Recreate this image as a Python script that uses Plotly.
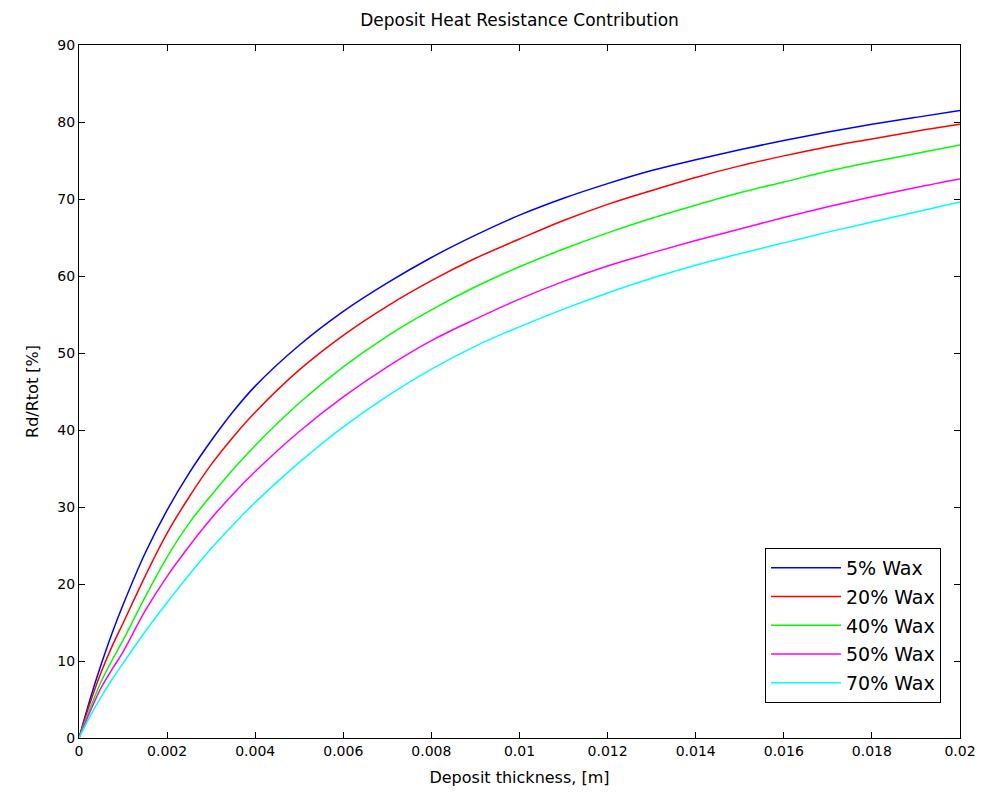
import plotly.graph_objects as go

thickness = [0, 0.00025, 0.0005, 0.00075, 0.001, 0.0015, 0.002, 0.0025, 0.003, 0.0035,
             0.004, 0.005, 0.006, 0.007, 0.008, 0.009, 0.01, 0.011, 0.012, 0.013,
             0.014, 0.015, 0.016, 0.017, 0.018, 0.019, 0.02]

wax5 = [0, 5.0, 9.5, 13.6, 17.3, 24.0, 29.6, 34.4, 38.6, 42.4, 45.7, 51.0, 55.4, 59.1,
        62.4, 65.3, 67.9, 70.1, 72.0, 73.7, 75.1, 76.4, 77.6, 78.7, 79.7, 80.6, 81.5]
wax20 = [0, 4.5, 8.5, 11.9, 14.9, 21.0, 26.6, 31.3, 35.5, 39.1, 42.3, 47.8, 52.3, 56.1,
         59.4, 62.3, 64.8, 67.2, 69.3, 71.1, 72.8, 74.3, 75.6, 76.8, 77.8, 78.8, 79.7]
wax40 = [0, 3.8, 7.3, 10.1, 12.7, 18.3, 23.5, 27.9, 31.5, 34.9, 38.0, 43.5, 48.2, 52.2,
         55.6, 58.6, 61.2, 63.5, 65.6, 67.5, 69.2, 70.8, 72.2, 73.6, 74.8, 75.9, 77.0]
wax50 = [0, 3.4, 6.5, 8.9, 11.2, 16.5, 21.0, 24.9, 28.5, 31.7, 34.6, 39.8, 44.3, 48.2,
         51.6, 54.4, 57.0, 59.3, 61.3, 63.0, 64.6, 66.1, 67.6, 69.0, 70.3, 71.5, 72.6]
wax70 = [0, 2.8, 5.3, 7.6, 9.7, 13.8, 17.6, 21.2, 24.6, 27.7, 30.6, 35.8, 40.4, 44.4,
         47.9, 50.9, 53.4, 55.7, 57.8, 59.7, 61.4, 62.9, 64.3, 65.7, 67.0, 68.3, 69.6]

series_names = ["5% Wax", "20% Wax", "40% Wax", "50% Wax", "70% Wax"]
series_values = [wax5, wax20, wax40, wax50, wax70]
series_colors = ["#0000ff", "#ff0000", "#00ff00", "#ff00ff", "#00ffff"]

x_ticks = [0, 0.002, 0.004, 0.006, 0.008, 0.01, 0.012, 0.014, 0.016, 0.018, 0.02]
x_tick_labels = ["0", "0.002", "0.004", "0.006", "0.008", "0.01", "0.012", "0.014",
                 "0.016", "0.018", "0.02"]
y_ticks = [0, 10, 20, 30, 40, 50, 60, 70, 80, 90]

fig = go.Figure()
for i, (name, vals, col) in enumerate(zip(series_names, series_values, series_colors)):
    fig.add_trace(go.Scatter(
        x=thickness, y=vals, mode="lines", name=name,
        line=dict(color=col, width=1.5, shape="spline", smoothing=1.0),
        legendgroup=f"g{i}",
    ))

font_family = "DejaVu Sans, sans-serif"

fig.update_layout(
    width=982, height=801,
    margin=dict(l=79, r=22, t=45, b=63, autoexpand=False),
    paper_bgcolor="white", plot_bgcolor="white",
    font=dict(family=font_family, size=14, color="black"),
    title=dict(text="Deposit Heat Resistance Contribution", x=0.5, xref="paper",
               xanchor="center", y=1 - 20 / 801, yanchor="middle", font=dict(size=17)),
    showlegend=True,
    legend=dict(x=(941 - 79) / 881, xanchor="right", y=(738 - 548) / 693, yanchor="top",
                bgcolor="white", bordercolor="black", borderwidth=1,
                font=dict(size=19),
                itemwidth=70, tracegroupgap=1, traceorder="grouped"),
)

axis_common = dict(showline=True, linecolor="black", linewidth=1, mirror="ticks",
                   ticks="inside", ticklen=6, tickcolor="black", showgrid=False,
                   zeroline=False, tickfont=dict(size=14), automargin=False)

fig.update_xaxes(range=[0, 0.02], tickvals=x_ticks, ticktext=x_tick_labels,
                 title=dict(text="Deposit thickness, [m]", standoff=14, font=dict(size=16)),
                 **axis_common)
fig.update_yaxes(range=[0, 90], tickvals=y_ticks,
                 title=dict(text="Rd/Rtot [%]", standoff=14, font=dict(size=16)),
                 **axis_common)

fig.write_html("out.html")
